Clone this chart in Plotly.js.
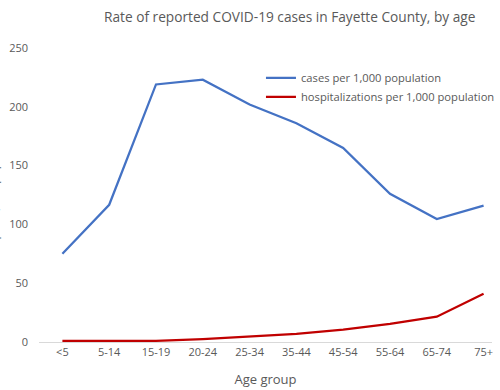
<!DOCTYPE html>
<html>
<head>
<meta charset="utf-8">
<script src="https://cdn.plot.ly/plotly-3.0.1.min.js"></script>
<style>html,body{margin:0;padding:0;background:#fff;}#chart{width:500px;height:390px;}</style>
</head>
<body>
<div id="chart"></div>
<script>
var ageGroups = ["<5", "5-14", "15-19", "20-24", "25-34", "35-44", "45-54", "55-64", "65-74", "75+"];
var casesPer1000 = [75, 116.7, 219, 223, 202, 186, 165, 126, 104.5, 116];
var hospPer1000 = [1, 1, 1, 2.5, 5, 7, 10.5, 15.5, 21.5, 41];
var yTicks = [0, 50, 100, 150, 200, 250];

var FONT = "Open Sans, Noto Sans, sans-serif";
var GRAY = "#595959";

var traces = [
  {x: ageGroups, y: casesPer1000, type: "scatter", mode: "lines", name: "cases per 1,000 population",
   line: {color: "#4472C4", width: 2.25}},
  {x: ageGroups, y: hospPer1000, type: "scatter", mode: "lines", name: "hospitalizations per 1,000 population",
   line: {color: "#C00000", width: 2.25}}
];

var layout = {
  width: 500, height: 390,
  margin: {l: 39, r: 0, t: 48, b: 48},
  paper_bgcolor: "#fff", plot_bgcolor: "#fff",
  font: {family: FONT, color: GRAY, size: 11},
  showlegend: true,
  legend: {x: 0.49, y: 0.948, xanchor: "left", yanchor: "top", bgcolor: "rgba(0,0,0,0)",
           font: {family: FONT, size: 11.2, color: GRAY}, tracegroupgap: 0},
  xaxis: {type: "category", range: [-0.5, 9.18], showline: true, linecolor: "#D9D9D9", linewidth: 1,
          showgrid: false, zeroline: false, ticks: "", tickfont: {size: 11, color: GRAY},
          title: {text: "Age group", font: {size: 13, color: GRAY}, standoff: 16}},
  yaxis: {range: [0, 250], tickvals: yTicks, showgrid: false, zeroline: false, showline: false,
          ticks: "", tickfont: {size: 11, color: GRAY}, ticklabelstandoff: 10},
  annotations: [
    {text: "Rate of reported COVID-19 cases in Fayette County, by age", xref: "paper", yref: "paper",
     x: (294 - 39) / 461, y: 1, yshift: 32, xanchor: "center", yanchor: "middle", showarrow: false,
     font: {family: FONT, size: 13.7, color: GRAY}},
    {text: "Rate per 1,000 population", xref: "paper", yref: "paper", textangle: -90,
     x: (-8 - 39) / 461, y: 0.5, xanchor: "center", yanchor: "middle", showarrow: false,
     font: {family: FONT, size: 12, color: GRAY}}
  ]
};

Plotly.newPlot("chart", traces, layout, {displayModeBar: false, staticPlot: true});
</script>
</body>
</html>
